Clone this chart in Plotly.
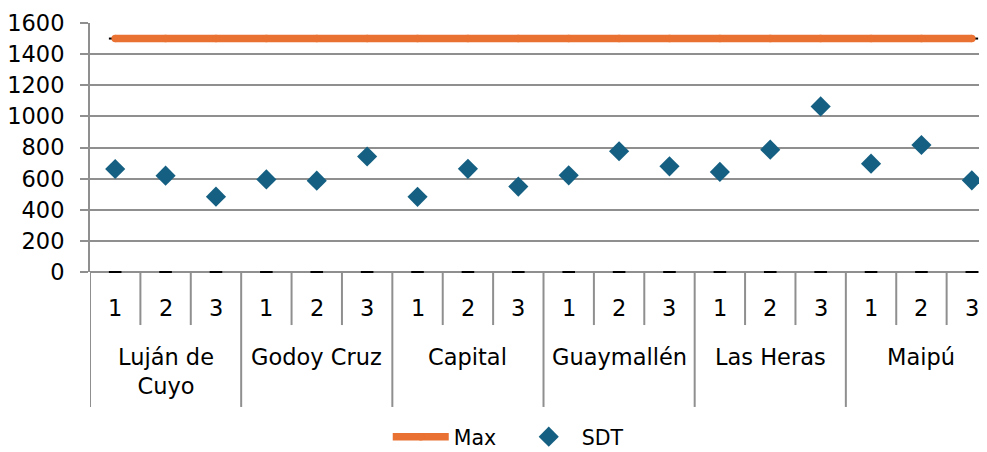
import plotly.graph_objects as go

groups = ["Luján de<br>Cuyo", "Godoy Cruz", "Capital", "Guaymallén", "Las Heras", "Maipú"]
subs = ["1", "2", "3"]
sdt = [662, 619, 484, 595, 587, 742,
       483, 663, 549, 621, 776, 679,
       643, 786, 1064, 696, 816, 589]
max_val = [1500] * 18
min_val = [0] * 18

n = len(sdt)
xs = list(range(n))
sub_labels = [subs[i % 3] for i in range(n)]

FONT = "DejaVu Sans"
GRID = "#8f8f8f"
BLUE = "#156082"
ORANGE = "#E97132"
FS = 22.5

fig = go.Figure()

# Max markers (dash) under the line
fig.add_trace(go.Scatter(x=xs, y=max_val, mode="markers", showlegend=False,
                         marker=dict(symbol="line-ew", size=9, color="black",
                                     line=dict(color="black", width=2)),
                         cliponaxis=False, hoverinfo="skip"))
fig.add_trace(go.Scatter(x=xs, y=max_val, mode="lines+markers", name="Max",
                         line=dict(color=ORANGE, width=7.5),
                         marker=dict(symbol="circle", size=7.5, color=ORANGE),
                         cliponaxis=False))
# Min markers at 0
fig.add_trace(go.Scatter(x=xs, y=min_val, mode="markers", showlegend=False,
                         marker=dict(symbol="line-ew", size=9, color="black",
                                     line=dict(color="black", width=2)),
                         cliponaxis=False, hoverinfo="skip"))
fig.add_trace(go.Scatter(x=xs, y=sdt, mode="markers", name="SDT",
                         marker=dict(symbol="diamond", size=15.5, color=BLUE),
                         cliponaxis=False))

shapes = []
# sub-category boundaries
for i in range(n + 1):
    b = i - 0.5
    is_group = (i % 3 == 0)
    shapes.append(dict(type="line", xref="x", yref="paper", x0=b, x1=b,
                       y0=0, y1=-0.542 if is_group else -0.213,
                       line=dict(color=GRID, width=2), layer="above"))

annotations = []
for i in range(n):
    annotations.append(dict(x=xs[i], y=-0.143, xref="x", yref="paper",
                            text=sub_labels[i], showarrow=False,
                            xanchor="center", yanchor="middle",
                            font=dict(family=FONT, size=FS, color="black")))
for g, name in enumerate(groups):
    annotations.append(dict(x=3 * g + 1, y=-0.283, xref="x", yref="paper",
                            text=name, showarrow=False,
                            xanchor="center", yanchor="top",
                            font=dict(family=FONT, size=FS, color="black")))

fig.update_layout(
    width=987, height=452,
    margin=dict(l=82, r=0, t=15, b=188, autoexpand=False),
    paper_bgcolor="white", plot_bgcolor="white",
    font=dict(family=FONT, size=FS, color="black"),
    xaxis=dict(range=[-0.5, 17.46], showgrid=False, zeroline=False,
               showticklabels=False, ticks="", showline=False, fixedrange=True,
               automargin=False),
    yaxis=dict(range=[0, 1600], dtick=200, tick0=0, showgrid=True,
               gridcolor=GRID, gridwidth=2, zeroline=True, zerolinecolor=GRID,
               zerolinewidth=2, showline=True, linecolor=GRID, linewidth=2,
               ticks="outside", ticklen=8, tickcolor=GRID, tickwidth=2,
               ticklabelstandoff=11, automargin=False,
               tickfont=dict(family=FONT, size=FS, color="black")),
    shapes=shapes,
    annotations=annotations,
    showlegend=True,
    legend=dict(orientation="h", x=0.329, xanchor="left", y=-0.662,
                yanchor="middle", bgcolor="rgba(0,0,0,0)",
                itemwidth=56, entrywidth=57, entrywidthmode="pixels",
                font=dict(family=FONT, size=20.5, color="black")),
)

fig.write_html("out.html")
